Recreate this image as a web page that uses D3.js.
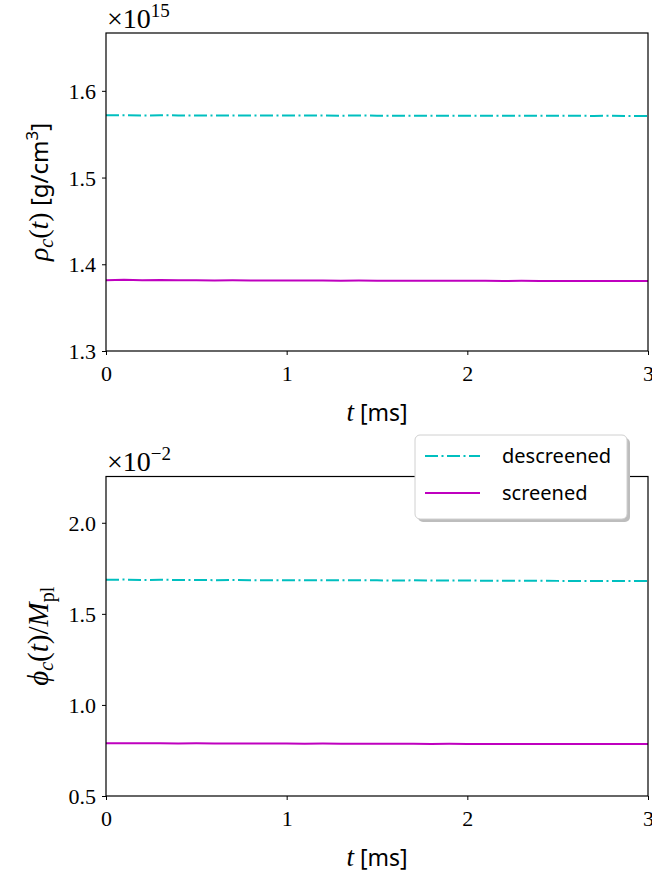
<!DOCTYPE html>
<html>
<head>
<meta charset="utf-8">
<script src="https://cdn.jsdelivr.net/npm/d3@7.9.0/dist/d3.min.js"></script>
<style>
  body { margin: 0; background: #fff; }
  svg { display: block; }
  .math { font-family: "Liberation Serif", serif; }
  .sans { font-family: "Noto Sans", sans-serif; }
</style>
</head>
<body>
<div id="chart"></div>
<script>
// time samples (ms)
const times = [0.0, 0.1, 0.2, 0.3, 0.4, 0.5, 0.6, 0.7, 0.8, 0.9, 1.0, 1.1, 1.2, 1.3, 1.4, 1.5,
  1.6, 1.7, 1.8, 1.9, 2.0, 2.1, 2.2, 2.3, 2.4, 2.5, 2.6, 2.7, 2.8, 2.9, 3.0];

// central density, units of 1e15 g/cm^3
const rhoDescreened = [1.5718, 1.5719, 1.5716, 1.5718, 1.5717, 1.5716, 1.5717, 1.5716, 1.5716, 1.5715,
  1.5716, 1.5715, 1.5715, 1.5714, 1.5715, 1.5714, 1.5714, 1.5713, 1.5714, 1.5713, 1.5713, 1.5713,
  1.5712, 1.5713, 1.5712, 1.5712, 1.5712, 1.5711, 1.5712, 1.5711, 1.5711];
const rhoScreened = [1.3816, 1.3821, 1.3817, 1.3819, 1.3815, 1.3817, 1.3814, 1.3815, 1.3813, 1.3814,
  1.3812, 1.3813, 1.3812, 1.3811, 1.3812, 1.3811, 1.3810, 1.3811, 1.3810, 1.3809, 1.3810, 1.3809,
  1.3808, 1.3809, 1.3808, 1.3807, 1.3808, 1.3807, 1.3806, 1.3807, 1.3806];

// central scalar field, units of 1e-2 M_pl
const phiDescreened = [1.687, 1.688, 1.686, 1.687, 1.686, 1.686, 1.685, 1.686, 1.685, 1.685,
  1.685, 1.684, 1.685, 1.684, 1.684, 1.684, 1.683, 1.684, 1.683, 1.683, 1.683, 1.682,
  1.682, 1.682, 1.682, 1.681, 1.681, 1.681, 1.681, 1.680, 1.680];
const phiScreened = [0.790, 0.789, 0.789, 0.789, 0.788, 0.789, 0.788, 0.788, 0.788, 0.788,
  0.788, 0.787, 0.788, 0.787, 0.787, 0.787, 0.787, 0.787, 0.786, 0.787, 0.786, 0.786,
  0.786, 0.786, 0.786, 0.786, 0.785, 0.786, 0.785, 0.785, 0.785];

const xTicks = [0, 1, 2, 3];
const rhoTicks = [1.3, 1.4, 1.5, 1.6];
const phiTicks = [0.5, 1.0, 1.5, 2.0];
const legendLabels = ['descreened', 'screened'];

const width = 652, height = 874;
const cyan = '#00bfbf', magenta = '#bf00bf';
const dashdot = '13,3.5,2,3.5';
const serif = '"Liberation Serif", serif';

const svg = d3.select('#chart').append('svg')
  .attr('width', width).attr('height', height);

const xScale = d3.scaleLinear().domain([0, 3]).range([106, 648]);

function drawPanel(opts) {
  const { yScale, ticks, descreened, screened } = opts;
  const [y0, y1] = yScale.range();
  const g = svg.append('g');

  const line = d3.line()
    .x((d, i) => xScale(times[i]))
    .y(d => yScale(d));

  g.append('path').datum(descreened)
    .attr('fill', 'none').attr('stroke', cyan).attr('stroke-width', 2)
    .attr('stroke-dasharray', dashdot).attr('d', line);
  g.append('path').datum(screened)
    .attr('fill', 'none').attr('stroke', magenta).attr('stroke-width', 2)
    .attr('d', line);

  // axes
  const xAxis = g.append('g').attr('transform', `translate(0,${y0})`)
    .call(d3.axisBottom(xScale).tickValues(xTicks).tickFormat(d3.format('d'))
      .tickSize(4).tickPadding(10).tickSizeOuter(0));
  const yAxis = g.append('g').attr('transform', `translate(${xScale.range()[0]},0)`)
    .call(d3.axisLeft(yScale).tickValues(ticks).tickFormat(d3.format('.1f'))
      .tickSize(4).tickPadding(6).tickSizeOuter(0));
  [xAxis, yAxis].forEach(a => {
    a.attr('font-family', serif).attr('font-size', 22);
    a.select('.domain').remove();
    a.selectAll('.tick line').attr('stroke', '#000').attr('stroke-width', 1);
    a.selectAll('.tick text').attr('fill', '#000');
  });
  yAxis.selectAll('.tick text').attr('dy', '0.34em');
  xAxis.selectAll('.tick text').attr('dy', '0.72em');

  // frame
  g.append('rect')
    .attr('x', xScale.range()[0]).attr('y', y1)
    .attr('width', xScale.range()[1] - xScale.range()[0])
    .attr('height', y0 - y1)
    .attr('fill', 'none').attr('stroke', '#000').attr('stroke-width', 1.2);

  // x label
  const xl = g.append('text')
    .attr('x', (xScale.range()[0] + xScale.range()[1]) / 2)
    .attr('y', y0 + 70).attr('text-anchor', 'middle').attr('font-size', 27);
  xl.append('tspan').attr('class', 'math').attr('font-style', 'italic').text('t');
  xl.append('tspan').attr('class', 'sans').attr('font-size', 23).text(' [ms]');

  return g;
}

// top panel
const rhoY = d3.scaleLinear().domain([1.3, 1.6667]).range([351, 33]);
const topPanel = drawPanel({ yScale: rhoY, ticks: rhoTicks, descreened: rhoDescreened, screened: rhoScreened });

const off1 = topPanel.append('text').attr('class', 'math').attr('x', 107).attr('y', 28).attr('font-size', 28);
off1.append('tspan').text('×10');
off1.append('tspan').attr('dy', -11).attr('font-size', 19).text('15');

const yl1 = topPanel.append('text')
  .attr('transform', `translate(48,${(351 + 33) / 2}) rotate(-90)`)
  .attr('text-anchor', 'middle').attr('font-size', 28);
yl1.append('tspan').attr('class', 'math').attr('font-style', 'italic').text('ρ');
yl1.append('tspan').attr('class', 'math').attr('font-style', 'italic').attr('font-size', 20).attr('dy', 5).text('c');
yl1.append('tspan').attr('class', 'math').attr('dy', -5).text('(');
yl1.append('tspan').attr('class', 'math').attr('font-style', 'italic').text('t');
yl1.append('tspan').attr('class', 'math').text(')');
yl1.append('tspan').attr('class', 'sans').attr('font-size', 24).text(' [g/cm');
yl1.append('tspan').attr('class', 'sans').attr('font-size', 17).attr('dy', -10).text('3');
yl1.append('tspan').attr('class', 'sans').attr('font-size', 24).attr('dy', 10).text(']');

// bottom panel
const phiY = d3.scaleLinear().domain([0.5, 2.254]).range([796, 476.5]);
const bottomPanel = drawPanel({ yScale: phiY, ticks: phiTicks, descreened: phiDescreened, screened: phiScreened });

const off2 = bottomPanel.append('text').attr('class', 'math').attr('x', 107).attr('y', 471).attr('font-size', 28);
off2.append('tspan').text('×10');
off2.append('tspan').attr('dy', -11).attr('font-size', 19).text('−2');

const yl2 = bottomPanel.append('text')
  .attr('transform', `translate(48,${(796 + 476.5) / 2}) rotate(-90)`)
  .attr('text-anchor', 'middle').attr('font-size', 29).attr('class', 'math');
yl2.append('tspan').attr('font-style', 'italic').text('ϕ');
yl2.append('tspan').attr('font-style', 'italic').attr('font-size', 20).attr('dy', 5).text('c');
yl2.append('tspan').attr('dy', -5).text('(');
yl2.append('tspan').attr('font-style', 'italic').text('t');
yl2.append('tspan').text(')/');
yl2.append('tspan').attr('font-style', 'italic').text('M');
yl2.append('tspan').attr('font-size', 20).attr('dy', 6).text('pl');

// legend
const lg = svg.append('g').attr('transform', 'translate(415,435)');
lg.append('rect').attr('x', 3).attr('y', 3).attr('width', 212).attr('height', 84)
  .attr('rx', 5).attr('fill', '#bdbdbd');
lg.append('rect').attr('width', 212).attr('height', 84).attr('rx', 5)
  .attr('fill', '#fff').attr('stroke', '#d0d0d0').attr('stroke-width', 1);
const legendRows = lg.selectAll('g.row').data(legendLabels).join('g')
  .attr('class', 'row').attr('transform', (d, i) => `translate(0,${21 + i * 37})`);
legendRows.append('line').attr('x1', 10).attr('x2', 65)
  .attr('stroke', (d, i) => i === 0 ? cyan : magenta).attr('stroke-width', 2)
  .attr('stroke-dasharray', (d, i) => i === 0 ? dashdot : null);
legendRows.append('text').attr('class', 'sans').attr('x', 87).attr('dy', '0.35em')
  .attr('font-size', 20).text(d => d);
</script>
</body>
</html>
